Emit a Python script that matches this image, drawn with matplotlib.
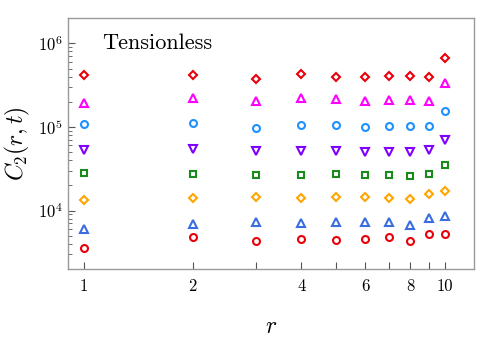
import matplotlib
matplotlib.use("Agg")
import matplotlib.pyplot as plt
from matplotlib.ticker import FixedLocator, FixedFormatter, LogLocator, NullFormatter

plt.rcParams["mathtext.fontset"] = "cm"
plt.rcParams["font.family"] = ["cmr10", "DejaVu Serif"]
plt.rcParams["axes.formatter.use_mathtext"] = True

# --- Data ---
r = [1, 2, 3, 4, 5, 6, 7, 8, 9, 10]
s1 = [4.16e5, 4.23e5, 3.79e5, 4.32e5, 3.98e5, 3.91e5, 4.02e5, 4.06e5, 3.98e5, 6.63e5]
s2 = [1.96e5, 2.21e5, 2.02e5, 2.21e5, 2.15e5, 2.04e5, 2.11e5, 2.11e5, 2.04e5, 3.40e5]
s3 = [1.09e5, 1.10e5, 9.8e4, 1.06e5, 1.06e5, 1.00e5, 1.03e5, 1.03e5, 1.02e5, 1.55e5]
s4 = [5.37e4, 5.41e4, 5.13e4, 5.22e4, 5.22e4, 4.99e4, 5.08e4, 4.99e4, 5.26e4, 7.06e4]
s5 = [2.83e4, 2.73e4, 2.68e4, 2.63e4, 2.70e4, 2.65e4, 2.65e4, 2.61e4, 2.75e4, 3.46e4]
s6 = [1.34e4, 1.41e4, 1.44e4, 1.40e4, 1.44e4, 1.45e4, 1.41e4, 1.37e4, 1.56e4, 1.70e4]
s7 = [5.99e3, 6.87e3, 7.31e3, 7.06e3, 7.31e3, 7.31e3, 7.19e3, 6.74e3, 8.03e3, 8.49e3]
s8 = [3.59e3, 4.77e3, 4.31e3, 4.52e3, 4.47e3, 4.55e3, 4.77e3, 4.28e3, 5.18e3, 5.27e3]
series = [s1, s2, s3, s4, s5, s6, s7, s8]
markers = ["D", "^", "o", "v", "s", "D", "^", "o"]
colors = ["#e8000b", "#ff00ff", "#1e90ff", "#8000ff", "#1a8a1a", "#ffa500", "#3a6ee0", "#e8000b"]
sizes = [4.5, 5.5, 5, 5.5, 5, 4.5, 5.5, 5]
xticks = [1, 2, 3, 4, 5, 6, 7, 8, 9, 10]
xticklabels = ["1", "2", "", "4", "", "6", "", "8", "", "10"]
# -------------

fig = plt.figure(figsize=(4.93, 3.37), dpi=100)
ax = fig.add_axes([0.137, 0.202, 0.824, 0.744])

for y, m, c, ms in zip(series, markers, colors, sizes):
    ax.plot(r, y, linestyle="none", marker=m, ms=ms, mfc="none",
            mec=c, mew=1.5)

ax.set_xscale("log")
ax.set_yscale("log")
ax.set_xlim(0.9, 12)
ax.set_ylim(2e3, 2e6)

ax.xaxis.set_major_locator(FixedLocator(xticks))
ax.xaxis.set_major_formatter(FixedFormatter(xticklabels))
ax.xaxis.set_minor_locator(FixedLocator([]))
ax.yaxis.set_major_locator(LogLocator(base=10, numticks=10))
ax.yaxis.set_minor_locator(LogLocator(base=10, subs=range(2, 10), numticks=20))
ax.yaxis.set_minor_formatter(NullFormatter())

ax.tick_params(which="both", direction="in", color="#555555", labelsize=12,
               top=False, right=False)
ax.tick_params(which="major", length=5, width=0.8)
ax.tick_params(which="minor", length=3, width=0.6)
ax.tick_params(axis="x", pad=7)
for sp in ax.spines.values():
    sp.set_color("#999999")
    sp.set_linewidth(1.0)

ax.set_xlabel("$r$", fontsize=17, labelpad=16)
ax.set_ylabel("$C_2(r,t)$", fontsize=17, labelpad=4)
ax.text(0.085, 0.9, "Tensionless", transform=ax.transAxes, fontsize=16,
        va="center", ha="left")

fig.savefig("out.png", dpi=100)
